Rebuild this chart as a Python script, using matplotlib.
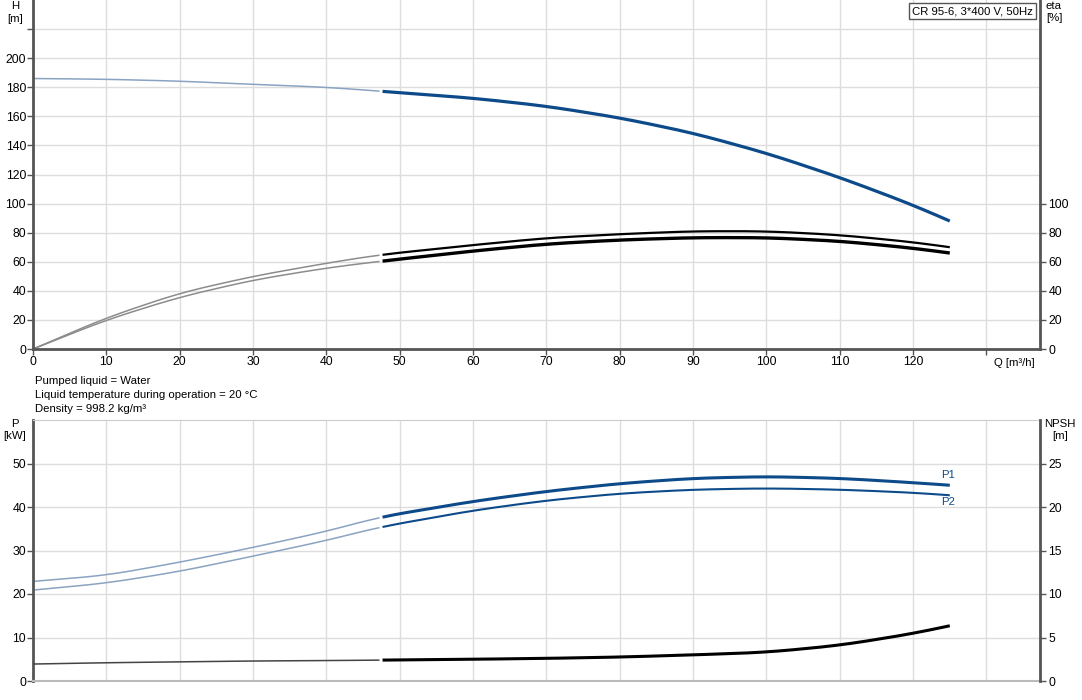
import numpy as np
import matplotlib.pyplot as plt

plt.rcParams['font.family'] = ['Liberation Sans', 'DejaVu Sans']

# flow points (m3/h)
q = [0, 10, 20, 30, 40, 47.3, 60, 70, 80, 90, 100, 110, 120, 125]
Q_SPLIT = 47.3  # thin part left of this, thick part right

head = [186, 185.5, 184.2, 182, 180, 177.3, 172.5, 167, 159, 148.5, 134.7, 118, 99, 88]
eta_1 = [0, 21.5, 38.5, 50, 59, 64.8, 71.5, 76.3, 79, 81, 81, 78.4, 73.5, 70]
eta_2 = [0, 20, 35.7, 47.4, 55.7, 60.3, 67.4, 72.2, 75, 76.6, 76.6, 74.2, 69.4, 66]

p1 = [22.9, 24.3, 27.3, 30.7, 34.4, 37.7, 41.3, 43.6, 45.4, 46.6, 47, 46.6, 45.6, 45]
p2 = [20.9, 22.5, 25.2, 28.7, 32.3, 35.4, 39.2, 41.5, 43.1, 44, 44.3, 44, 43.3, 42.7]
npsh = [1.95, 2.1, 2.2, 2.3, 2.35, 2.4, 2.5, 2.6, 2.75, 3.0, 3.3, 4.1, 5.45, 6.35]

liquid_info = ['Pumped liquid = Water',
               'Liquid temperature during operation = 20 °C',
               'Density = 998.2 kg/m³']

BLUE = '#0d4a8a'
BLUE_LIGHT = '#8aa3c2'
GREY_THIN = '#8c8c8c'
DARK = '#555555'
GRID = '#dddddd'
FS_TICK = 8.8
FS_TEXT = 8.2


def smooth(x, y):
    # light smoothing between the read points, only for drawing
    xs = np.linspace(min(x), max(x), 300)
    ys = np.interp(xs, x, y)
    k = 9
    pad = np.pad(ys, k, mode='reflect', reflect_type='odd')
    ys = np.convolve(pad, np.ones(2 * k + 1) / (2 * k + 1), mode='valid')
    return xs, ys


def draw_curve(ax, x, y, color, thin_color, lw):
    xs, ys = smooth(x, y)
    thin = xs <= Q_SPLIT
    ax.plot(xs[thin], ys[thin], color=thin_color, lw=1.1, solid_capstyle='butt')
    ax.plot(xs[~thin], ys[~thin], color=color, lw=lw, solid_capstyle='butt')


def style_axes(ax, dark_bottom):
    ax.set_xlim(0, 137.3)
    ax.set_xticks(np.arange(0, 131, 10))
    ax.grid(True, color=GRID, lw=1)
    ax.set_axisbelow(True)
    ax.spines['left'].set_color(DARK)
    ax.spines['left'].set_linewidth(2)
    ax.spines['right'].set_visible(False)
    ax.spines['top'].set_color('#cccccc')
    ax.spines['bottom'].set_color(DARK if dark_bottom else '#bbbbbb')
    ax.spines['bottom'].set_linewidth(2 if dark_bottom else 1.5)
    ax.tick_params(direction='out', length=4, width=1, color=DARK, labelsize=FS_TICK, pad=1)


def style_right(ax):
    ax.spines['right'].set_color(DARK)
    ax.spines['right'].set_linewidth(2)
    for s in ['left', 'top', 'bottom']:
        ax.spines[s].set_visible(False)
    ax.tick_params(direction='out', length=4, width=1, color=DARK, labelsize=FS_TICK, pad=2)


fig = plt.figure(figsize=(10.82, 7.0), dpi=100)

# ---- top: head and efficiency
ax1 = fig.add_axes([33 / 1082, 1 - 349 / 700, (1040 - 33) / 1082, 349 / 700])
style_axes(ax1, True)
ax1.spines['top'].set_visible(False)
ax1.set_ylim(0, 240)
ax1.set_yticks(np.arange(0, 221, 20))
ax1.set_yticklabels([str(v) if v <= 200 else '' for v in range(0, 221, 20)])
ax1.set_xticklabels([str(v) for v in range(0, 121, 10)] + [''])
ax1.yaxis.get_major_ticks()[-1].tick1line.set_visible(False)
ax1.text(131, -6, 'Q [m³/h]', fontsize=FS_TEXT, va='top', ha='left')

draw_curve(ax1, q, head, BLUE, BLUE_LIGHT, 2.3)
draw_curve(ax1, q, eta_1, 'black', GREY_THIN, 1.6)
draw_curve(ax1, q, eta_2, 'black', GREY_THIN, 2.4)

ax1r = ax1.twinx()
ax1r.set_ylim(0, 240)
ax1r.set_yticks(np.arange(0, 101, 20))
style_right(ax1r)

fig.text(15 / 1082, 1 - 1 / 700, 'H\n[m]', fontsize=FS_TEXT, ha='center', va='top', linespacing=1.4)
fig.text(1054 / 1082, 1 - 1 / 700, 'eta\n[%]', fontsize=FS_TEXT, ha='center', va='top', linespacing=1.3)
fig.text(912 / 1082, 1 - 11 / 700, 'CR 95-6, 3*400 V, 50Hz', fontsize=FS_TEXT, ha='left', va='center',
         bbox=dict(boxstyle='square,pad=0.3', fc='white', ec=DARK, lw=1))

for i, line in enumerate(liquid_info):
    fig.text(35 / 1082, 1 - (381 + 14 * i) / 700, line, fontsize=FS_TEXT, ha='left', va='center')

# ---- bottom: power and NPSH
ax2 = fig.add_axes([33 / 1082, 1 - 681 / 700, (1040 - 33) / 1082, (681 - 420) / 700])
style_axes(ax2, False)
ax2.set_ylim(0, 60)
ax2.set_yticks(np.arange(0, 51, 10))
ax2.set_xticklabels([])
ax2.tick_params(axis='x', length=0)

draw_curve(ax2, q, p1, BLUE, BLUE_LIGHT, 2.2)
draw_curve(ax2, q, p2, BLUE, BLUE_LIGHT, 1.5)
ax2.text(123.8, p1[-1] + 1.2, 'P1', color=BLUE, fontsize=FS_TEXT, ha='left', va='bottom')
ax2.text(123.8, p2[-1] - 0.4, 'P2', color=BLUE, fontsize=FS_TEXT, ha='left', va='top')

ax2r = ax2.twinx()
ax2r.set_ylim(0, 30)
ax2r.set_yticks(np.arange(0, 26, 5))
style_right(ax2r)
draw_curve(ax2r, q, npsh, 'black', '#444444', 2.2)

fig.text(15 / 1082, 1 - 419 / 700, 'P\n[kW]', fontsize=FS_TEXT, ha='center', va='top', linespacing=1.3)
fig.text(1060 / 1082, 1 - 419 / 700, 'NPSH\n[m]', fontsize=FS_TEXT, ha='center', va='top', linespacing=1.3)

fig.savefig('out.png', dpi=100)
